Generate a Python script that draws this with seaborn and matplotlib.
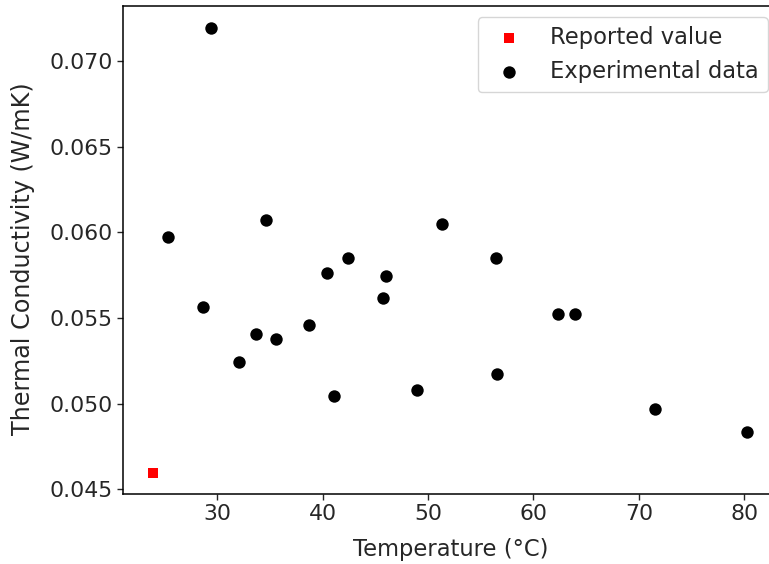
import numpy as np
import pandas as pd
import matplotlib
matplotlib.use("Agg")
import matplotlib.pyplot as plt
import seaborn as sns

# reported literature value
reported_temp = [23.9]
reported_k = [0.04597]

# experimental measurements (temperature in C, conductivity in W/mK)
exp_temp = [29.4, 25.3, 34.65, 28.6, 32.05, 33.7, 35.55, 38.7, 41.05,
            51.3, 42.4, 40.45, 46.0, 45.75, 56.4, 56.55, 48.9, 62.3,
            63.9, 71.5, 80.3]
exp_k = [0.07194, 0.05971, 0.0607, 0.05564, 0.05243, 0.05409, 0.0538,
         0.05461, 0.05045, 0.06049, 0.05848, 0.05761, 0.05743, 0.05615,
         0.05848, 0.05172, 0.05078, 0.05522, 0.05526, 0.04971, 0.04837]

reported = pd.DataFrame({"Temperature": reported_temp, "k": reported_k})
experimental = pd.DataFrame({"Temperature": exp_temp, "k": exp_k})

sns.set_style("ticks")
plt.rcParams["font.family"] = ["DejaVu Sans"]
plt.rcParams["axes.edgecolor"] = "black"

fs = 16.3
fig = plt.figure(figsize=(7.69, 5.64), dpi=100)
# the original is cropped on the right, so the axes run past the figure edge
ax = fig.add_axes([0.1603, 0.1241, 0.8527, 0.8658])

sns.scatterplot(data=reported, x="Temperature", y="k", marker="s", color="red",
                s=55, edgecolor="red", linewidth=0, label="Reported value", ax=ax)
sns.scatterplot(data=experimental, x="Temperature", y="k", marker="o", color="black",
                s=80, edgecolor="black", linewidth=0, label="Experimental data", ax=ax)

ax.set_xlim(21.07, 83.3)
ax.set_ylim(0.04473, 0.07323)
ax.set_xticks([30, 40, 50, 60, 70, 80])
ax.set_yticks([0.045, 0.050, 0.055, 0.060, 0.065, 0.070])
ax.set_yticklabels(["0.045", "0.050", "0.055", "0.060", "0.065", "0.070"])

ax.set_xlabel("Temperature (°C)", fontsize=fs, color="#262626", labelpad=9.5)
ax.set_ylabel("Thermal Conductivity (W/mK)", fontsize=17.2, color="#262626",
              labelpad=10.5, y=0.483)
ax.tick_params(labelsize=fs - 0.5, colors="#262626", width=1, length=4)
for sp in ax.spines.values():
    sp.set_linewidth(1.1)
    sp.set_color("black")

ax.legend(loc="upper right", fontsize=fs, frameon=True)

fig.savefig("out.png", dpi=100)
